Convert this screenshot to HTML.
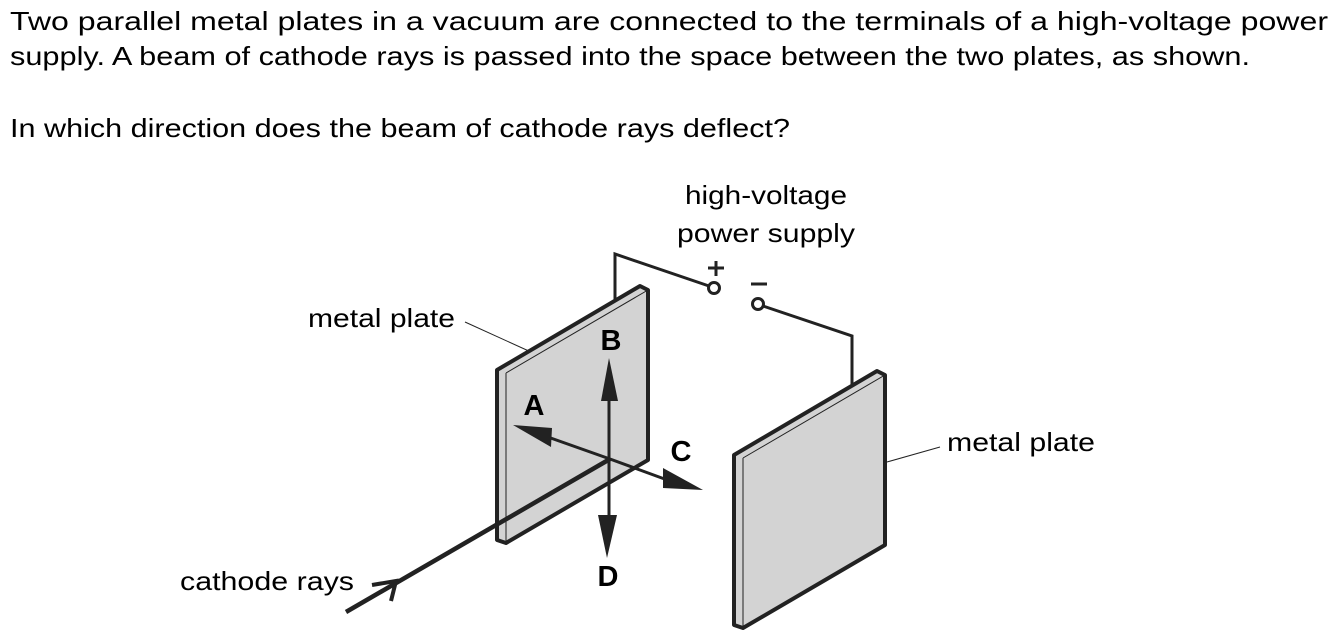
<!DOCTYPE html>
<html><head><meta charset="utf-8"><style>
html,body{margin:0;padding:0;background:#fff;}
svg{display:block;}
text{font-family:"Liberation Sans",Arial,sans-serif;fill:#000;}
</style></head><body>
<svg width="1340" height="643" viewBox="0 0 1340 643" xmlns="http://www.w3.org/2000/svg">
<text x="10" y="30" font-size="26" textLength="1318" lengthAdjust="spacingAndGlyphs">Two parallel metal plates in a vacuum are connected to the terminals of a high-voltage power</text>
<text x="10" y="65" font-size="26" textLength="1240" lengthAdjust="spacingAndGlyphs">supply. A beam of cathode rays is passed into the space between the two plates, as shown.</text>
<text x="10" y="137" font-size="26" textLength="780" lengthAdjust="spacingAndGlyphs">In which direction does the beam of cathode rays deflect?</text>

<g font-size="26">
<text x="685" y="204" textLength="162" lengthAdjust="spacingAndGlyphs">high-voltage</text>
<text x="677" y="242" textLength="178" lengthAdjust="spacingAndGlyphs">power supply</text>
<text x="308" y="327" textLength="147" lengthAdjust="spacingAndGlyphs">metal plate</text>
<text x="947" y="451" textLength="148" lengthAdjust="spacingAndGlyphs">metal plate</text>
<text x="180" y="590" textLength="174" lengthAdjust="spacingAndGlyphs">cathode rays</text>
</g>

<g fill="none" stroke="#222" stroke-width="3">
<polyline points="615,305 615,254 709,286"/>
<circle cx="714" cy="288" r="5.5" fill="#fff"/>
<polyline points="763,306 852,336 852,385"/>
<circle cx="758" cy="304" r="5.5" fill="#fff"/>
</g>
<g stroke="#222" stroke-width="3">
<line x1="716" y1="261" x2="716" y2="276"/><line x1="708" y1="268" x2="724" y2="268"/>
<line x1="751" y1="284" x2="767" y2="284"/>
</g>

<line x1="465" y1="322" x2="553" y2="362" stroke="#222" stroke-width="1"/>
<line x1="940" y1="447" x2="887" y2="462" stroke="#222" stroke-width="1"/>

<g stroke="#222" stroke-linejoin="round">
<polygon points="497,370 640,286 648,290 648,460 506,543 497,540" fill="#d3d3d3" stroke-width="4"/>
<line x1="506" y1="373" x2="506" y2="543" stroke-width="1"/>
<line x1="506" y1="373" x2="648" y2="290" stroke-width="1"/>
</g>
<g stroke="#222" stroke-linejoin="round">
<polygon points="734,455 877,371 885,375 885,545 743,628 734,625" fill="#d3d3d3" stroke-width="4"/>
<line x1="743" y1="458" x2="743" y2="628" stroke-width="1"/>
<line x1="743" y1="458" x2="885" y2="375" stroke-width="1"/>
</g>

<line x1="346" y1="612" x2="610" y2="459" stroke="#222" stroke-width="4.5"/>
<polyline points="372,585 396,581 391,601" fill="none" stroke="#222" stroke-width="4"/>

<g stroke="#222" stroke-width="3" fill="#222">
<line x1="609" y1="460" x2="609" y2="395"/>
<polygon points="609,358 601,401 618,401" stroke="none"/>
<line x1="609" y1="460" x2="609" y2="525"/>
<polygon points="607,558 598,515 617,515" stroke="none"/>
<line x1="610" y1="459" x2="545" y2="436"/>
<polygon points="513,425 552,428 551,447" stroke="none"/>
<line x1="610" y1="459" x2="670" y2="481"/>
<polygon points="703,490 663,468 663,488" stroke="none"/>
</g>
<g font-weight="bold">
<text x="611" y="350" text-anchor="middle" font-size="29">B</text>
<text x="534" y="415" text-anchor="middle" font-size="29">A</text>
<text x="681" y="461" text-anchor="middle" font-size="29">C</text>
<text x="608" y="586" text-anchor="middle" font-size="29">D</text>
</g>
</svg>
</body></html>
